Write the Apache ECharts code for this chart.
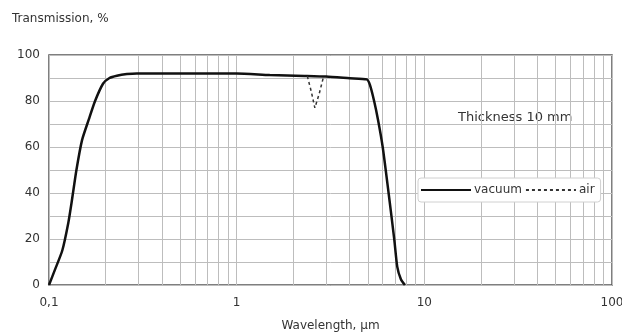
<!DOCTYPE html>
<html>
<head>
<meta charset="utf-8">
<script src="https://cdn.jsdelivr.net/npm/echarts@6/dist/echarts.min.js"></script>
<style>html,body{margin:0;padding:0;background:#fff;}#c{width:622px;height:336px;}</style>
</head>
<body>
<div id="c"></div>
<script>
// wavelength (µm) and transmission (%) for vacuum
var vacuumWavelength = [0.1, 0.108, 0.1177, 0.1267, 0.132, 0.14, 0.15, 0.163, 0.176, 0.194, 0.21, 0.23, 0.26, 0.294, 0.5, 1.0, 1.5, 2.3, 3.0, 4.0, 4.94, 5.13, 5.4, 5.66, 6.0, 6.45, 6.92, 7.17, 7.5, 7.88];
var vacuumTransmission = [0, 7, 15, 27, 36, 50, 63, 72, 80, 87.5, 90, 91, 91.7, 92, 92, 92, 91.3, 90.9, 90.6, 89.9, 89.4, 87, 80, 72, 60, 40, 19.6, 8, 2.5, 0];
// air absorption dip
var airWavelength = [2.38, 2.5, 2.61, 2.75, 2.9];
var airTransmission = [90.8, 84, 77, 83, 90.4];
// minor vertical grid positions
var minorGrid = [0.2,0.3,0.4,0.5,0.6,0.7,0.8,0.9,2,3,4,5,6,7,8,9,20,30,40,50,60,70,80,90];
var xTicks = [0.1, 1, 10, 100];
var yTicks = [0, 20, 40, 60, 80, 100];

function zip(a, b){ return a.map(function(v,i){ return [v, b[i]]; }); }

var chart = echarts.init(document.getElementById('c'), null, {renderer:'canvas'});
var font = '"DejaVu Sans", sans-serif';
chart.setOption({
  animation: false,
  textStyle: {fontFamily: font},
  grid: {left: 49, right: 10, top: 55, bottom: 51, show: true, borderColor: '#555', borderWidth: 1.5,
    containLabel: false, outerBoundsMode: 'none'},
  xAxis: {
    type: 'log', logBase: 10, min: 0.1, max: 100,
    name: 'Wavelength, µm', nameLocation: 'middle', nameGap: 35,
    nameTextStyle: {color: '#333', fontSize: 12, fontFamily: font},
    axisLine: {show: false}, axisTick: {show: false},
    axisLabel: {color: '#333', fontSize: 12, margin: 12, fontFamily: font,
      formatter: function(v){ return String(v).replace('.', ','); }},
    splitLine: {show: true, lineStyle: {color: '#bdbdbd', width: 1}}
  },
  yAxis: {
    type: 'value', min: 0, max: 100, interval: 10,
    axisLine: {show: false}, axisTick: {show: false},
    axisLabel: {color: '#333', fontSize: 12, margin: 9, fontFamily: font,
      formatter: function(v){ return yTicks.indexOf(v) >= 0 ? String(v) : ''; }},
    splitLine: {show: true, lineStyle: {color: '#bdbdbd', width: 1}}
  },
  legend: {
    left: 418, top: 178, padding: [6, 6, 6, 2], itemGap: 3,
    borderColor: '#d0d0d0', borderWidth: 1, borderRadius: 3, backgroundColor: '#fff',
    itemWidth: 50, itemHeight: 10,
    itemStyle: {opacity: 0},
    textStyle: {color: '#333', fontSize: 12, fontFamily: font, padding: [0, 0, 0, -2]},
    data: ['vacuum', 'air']
  },
  graphic: [
    {type: 'text', left: 12, top: 13, style: {text: 'Transmission, %', fill: '#333', font: '12px ' + font}},
    {type: 'text', left: 458, top: 111, style: {text: 'Thickness 10 mm', fill: '#333', font: '13px ' + font}}
  ],
  series: [
    {
      name: 'vacuum', type: 'line', smooth: 0.2, showSymbol: false, symbol: 'none',
      data: zip(vacuumWavelength, vacuumTransmission),
      lineStyle: {color: '#111', width: 2.5}, itemStyle: {color: '#111'},
      z: 5,
      markLine: {
        silent: true, symbol: 'none', animation: false,
        label: {show: false},
        lineStyle: {color: '#bdbdbd', width: 1, type: 'solid'},
        data: minorGrid.map(function(v){ return {xAxis: v}; }),
        z: 1
      }
    },
    {
      name: 'air', type: 'line', smooth: false, showSymbol: false, symbol: 'none',
      data: zip(airWavelength, airTransmission),
      lineStyle: {color: '#333', width: 1.5, type: [3, 3]}, itemStyle: {color: '#333'},
      z: 6
    }
  ]
});
</script>
</body>
</html>
